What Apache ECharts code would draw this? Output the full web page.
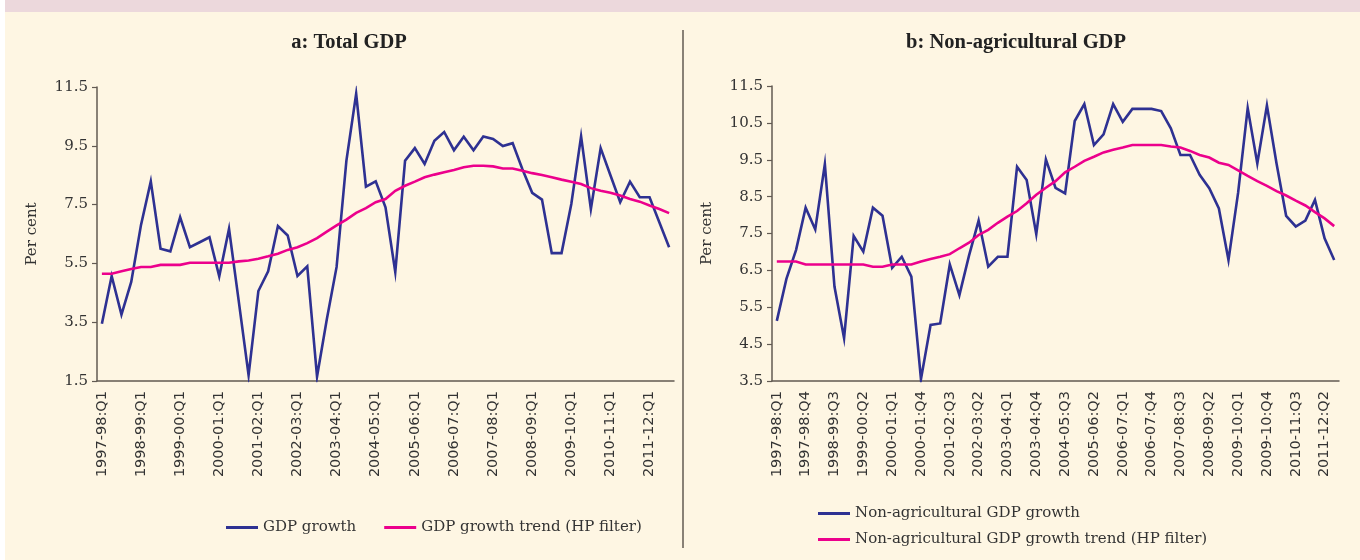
<!DOCTYPE html>
<html>
<head>
<meta charset="utf-8">
<title>GDP growth</title>
<script src="https://cdn.jsdelivr.net/npm/echarts@6/dist/echarts.min.js"></script>
<style>
html,body{margin:0;padding:0;background:#fff;}
#band{position:absolute;left:5px;top:0;width:1355px;height:12px;background:#ecd8dc;}
#panel{position:absolute;left:5px;top:12px;width:1355px;height:548px;background:#fef6e3;}
#main{position:absolute;left:0;top:0;width:1360px;height:560px;}
</style>
</head>
<body>
<div id="band"></div>
<div id="panel"></div>
<div id="main"></div>
<script>
var fiscalYears=["1997-98","1998-99","1999-00","2000-01","2001-02","2002-03","2003-04","2004-05","2005-06","2006-07","2007-08","2008-09","2009-10","2010-11","2011-12"];
var quarters=["Q1","Q2","Q3","Q4"];
var lastQuarter="2011-12:Q3";

var totalGrowth=[3.45,5.07,3.76,4.87,6.81,8.29,6.00,5.91,7.07,6.05,6.22,6.39,5.06,6.68,4.2,1.70,4.56,5.23,6.77,6.45,5.07,5.40,1.65,3.6,5.38,8.99,11.27,8.11,8.29,7.41,5.21,8.99,9.42,8.88,9.67,9.97,9.35,9.81,9.35,9.82,9.73,9.49,9.59,8.7,7.9,7.67,5.85,5.85,7.52,9.82,7.35,9.42,8.5,7.58,8.28,7.75,7.75,6.9,6.05];
var totalTrend=[5.15,5.15,5.23,5.31,5.38,5.38,5.45,5.45,5.45,5.52,5.52,5.52,5.52,5.52,5.57,5.60,5.66,5.74,5.83,5.96,6.05,6.19,6.36,6.58,6.79,6.99,7.22,7.38,7.58,7.69,7.97,8.14,8.28,8.43,8.52,8.60,8.68,8.77,8.82,8.82,8.80,8.73,8.73,8.65,8.57,8.51,8.43,8.35,8.28,8.20,8.06,7.97,7.90,7.81,7.69,7.60,7.47,7.35,7.21];
var nonAgriGrowth=[5.13,6.27,7.05,8.20,7.61,9.38,6.06,4.66,7.43,7.01,8.20,7.98,6.57,6.87,6.33,3.55,5.02,5.06,6.66,5.83,6.9,7.85,6.60,6.87,6.87,9.31,8.95,7.48,9.51,8.74,8.59,10.55,11.01,9.90,10.19,11.01,10.53,10.88,10.88,10.88,10.82,10.35,9.63,9.63,9.09,8.73,8.18,6.78,8.6,10.90,9.40,10.97,9.4,7.98,7.69,7.85,8.41,7.37,6.78];
var nonAgriTrend=[6.74,6.74,6.74,6.66,6.66,6.66,6.66,6.66,6.66,6.66,6.60,6.60,6.66,6.66,6.66,6.74,6.81,6.87,6.94,7.10,7.25,7.46,7.60,7.79,7.96,8.11,8.32,8.55,8.74,8.92,9.16,9.31,9.47,9.58,9.70,9.77,9.83,9.90,9.90,9.90,9.90,9.86,9.83,9.74,9.63,9.56,9.42,9.36,9.21,9.06,8.92,8.79,8.65,8.53,8.39,8.26,8.08,7.91,7.70];

var totalTicks=[1.5,3.5,5.5,7.5,9.5,11.5];
var nonAgriTicks=[3.5,4.5,5.5,6.5,7.5,8.5,9.5,10.5,11.5];

var names=["GDP growth","GDP growth trend (HP filter)","Non-agricultural GDP growth","Non-agricultural GDP growth trend (HP filter)"];

var BLUE="#2e3192",PINK="#ec008c",AXIS="#625a52",TEXT="#333";
var SERIF="DejaVu Serif";

function buildQuarters(){
	var list=[];
	for(var i=0;i<fiscalYears.length;i++){
		for(var j=0;j<quarters.length;j++){
			var q=fiscalYears[i]+":"+quarters[j];
			list.push(q);
			if(q==lastQuarter){
				return list;
			}
		}
	}
	return list;
}
var categories=buildQuarters();

function xAxisOf(gridIndex,every){
	return {
		type:"category",gridIndex:gridIndex,data:categories,boundaryGap:true,
		axisLine:{lineStyle:{color:AXIS,width:1.5}},
		axisTick:{interval:0,length:6,lineStyle:{color:AXIS,width:1.2}},
		axisLabel:{interval:every-1,rotate:90,margin:10,color:TEXT,fontFamily:"DejaVu Sans",fontSize:14.5}
	};
}
function yAxisOf(gridIndex,ticks){
	return {
		type:"value",gridIndex:gridIndex,
		min:ticks[0],max:ticks[ticks.length-1],interval:ticks[1]-ticks[0],
		name:"Per cent",nameLocation:"middle",nameGap:57,
		nameTextStyle:{fontFamily:SERIF,fontSize:15,color:TEXT},
		splitLine:{show:false},
		axisLine:{show:true,lineStyle:{color:AXIS,width:1.5}},
		axisTick:{show:true,length:5,lineStyle:{color:AXIS,width:1.2}},
		axisLabel:{margin:9,color:TEXT,fontFamily:SERIF,fontSize:15,formatter:function(v){return v.toFixed(1);}}
	};
}
function lineOf(name,data,color,idx){
	return {
		name:name,type:"line",data:data,xAxisIndex:idx,yAxisIndex:idx,
		symbol:"none",animation:false,
		lineStyle:{color:color,width:2.6,join:"miter",miterLimit:10},
		itemStyle:{color:color}
	};
}

var chart=echarts.init(document.getElementById("main"));
chart.setOption({
	animation:false,
	title:[
		{text:"a: Total GDP",left:349,top:32,padding:0,textAlign:"center",textStyle:{fontFamily:"Liberation Serif",fontWeight:"bold",fontSize:20.5,color:"#222"}},
		{text:"b: Non-agricultural GDP",left:1016,top:32,padding:0,textAlign:"center",textStyle:{fontFamily:"Liberation Serif",fontWeight:"bold",fontSize:20.5,color:"#222"}}
	],
	grid:[
		{left:97,top:87,width:577,height:294},
		{left:772,top:86,width:567,height:295}
	],
	xAxis:[xAxisOf(0,4),xAxisOf(1,3)],
	yAxis:[yAxisOf(0,totalTicks),yAxisOf(1,nonAgriTicks)],
	legend:[
		{data:[names[0],names[1]],left:226,top:520,padding:0,icon:"rect",itemWidth:32,itemHeight:3,itemGap:28,selectedMode:false,
			textStyle:{fontFamily:SERIF,fontSize:15,color:TEXT}},
		{data:[names[2],names[3]],orient:"vertical",left:818,top:506,padding:0,icon:"rect",itemWidth:32,itemHeight:3,itemGap:11,selectedMode:false,
			textStyle:{fontFamily:SERIF,fontSize:15,color:TEXT}}
	],
	graphic:[
		{type:"line",shape:{x1:683,y1:30,x2:683,y2:548},style:{stroke:AXIS,lineWidth:1.5}}
	],
	series:[
		lineOf(names[0],totalGrowth,BLUE,0),
		lineOf(names[1],totalTrend,PINK,0),
		lineOf(names[2],nonAgriGrowth,BLUE,1),
		lineOf(names[3],nonAgriTrend,PINK,1)
	]
});
</script>
</body>
</html>
